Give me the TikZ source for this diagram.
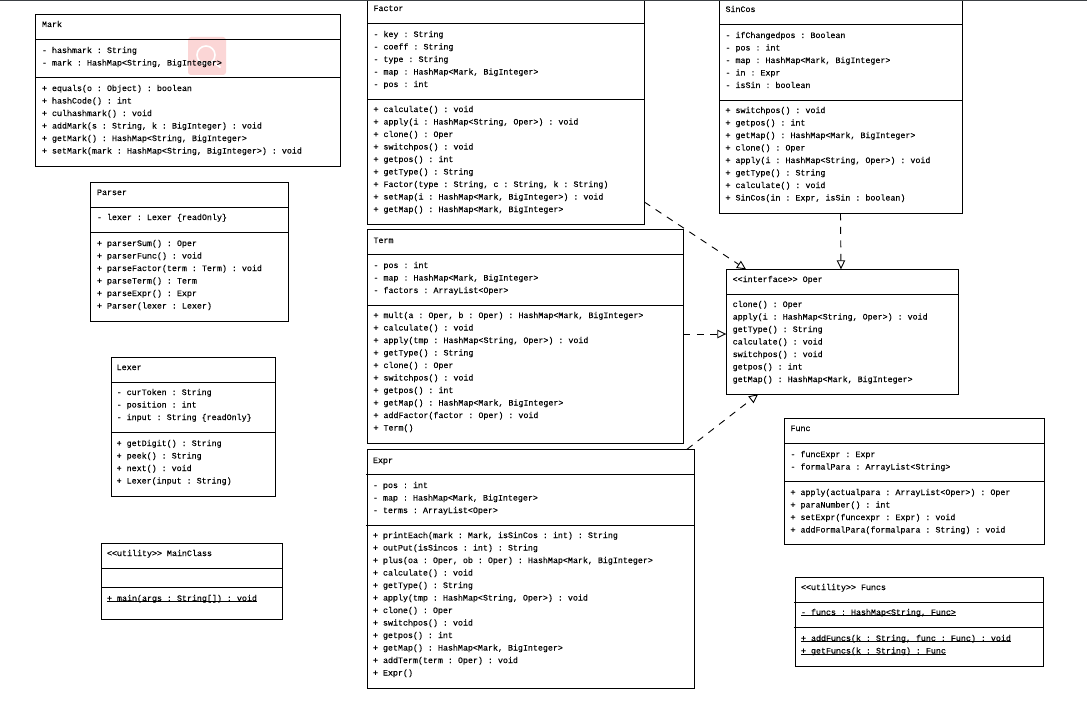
\documentclass[tikz,border=0pt]{standalone}
\usepackage{fontspec}
\setmainfont{Liberation Mono}[FakeBold=0.2]
\usetikzlibrary{arrows.meta}

\tikzset{
  classframe/.style={draw=black, line width=1pt, rectangle, inner sep=0pt, outer sep=0pt, anchor=north west},
  sepline/.style={draw=black, line width=1pt},
  textblock/.style={anchor=north west, inner sep=0pt, outer sep=0pt, align=left, text=black,
    font=\fontsize{8.33}{12.5}\selectfont\frenchspacing},
  realizes/.style={draw=black, line width=0.9pt, dash pattern=on 7pt off 6.5pt,
    -{Triangle[open, length=9pt, width=8.5pt, line width=0.9pt]}}
}

% frame of one class box: name, left, top, right, bottom
\newcommand\classbox[5]{%
  \pgfmathsetmacro\boxw{#4-#2}%
  \pgfmathsetmacro\boxh{#5-#3}%
  \node[classframe, minimum width=\boxw pt, minimum height=\boxh pt] (#1) at (#2,#3) {};}
% compartment rule across a box at height y; optional overhang on the left
\newcommand\classrule[3][0]{\draw[sepline] ([xshift=-#1pt]#2.west |- 0,#3) -- (#2.east |- 0,#3);}
% text block: name, x, centre line of first row, rows
\newcommand\classtext[4]{%
  \pgfmathsetmacro\blocktop{#3-4}%
  \node[textblock] (#1) at (#2,\blocktop) {\rule{0pt}{7pt}#4};}
% static members: rule just below the baseline
\newcommand\statictext[1]{\setbox0=\hbox{#1}\rlap{\rule[-1.2pt]{\wd0}{0.8pt}}\box0 }

\begin{document}
\begin{tikzpicture}[x=1pt,y=-1pt]
\useasboundingbox (0,0) rectangle (1087,717);
\fill[white] (0,0) rectangle (1087,717);

% browser overlay badge
\fill[rounded corners=3pt, fill={rgb,255:red,251;green,214;blue,214}] (188,37) rectangle (226,75);
\draw[white, line width=1.6pt] (206,55) circle (9);
\draw[white, line width=2pt, line cap=round] (213,62) -- (220,67);

% Mark
\classbox{Mark}{35.5}{14.4}{340.4}{166}
\classrule{Mark}{39.4}
\classrule{Mark}{77.3}
\classtext{markT}{42}{24}{Mark}
\classtext{markA}{42}{50}{- hashmark : String\\- mark : HashMap<String, BigInteger>}
\classtext{markO}{42}{88}{+ equals(o : Object) : boolean\\+ hashCode() : int\\+ culhashmark() : void\\+ addMark(s : String, k : BigInteger) : void\\+ getMark() : HashMap<String, BigInteger>\\+ setMark(mark : HashMap<String, BigInteger>) : void}

% Parser
\classbox{Parser}{90.5}{182.3}{288.3}{321}
\classrule{Parser}{207.3}
\classrule{Parser}{232.3}
\classtext{parserT}{97}{192}{Parser}
\classtext{parserA}{97}{217}{- lexer : Lexer \{readOnly\}}
\classtext{parserO}{97}{243}{+ parserSum() : Oper\\+ parserFunc() : void\\+ parseFactor(term : Term) : void\\+ parseTerm() : Term\\+ parseExpr() : Expr\\+ Parser(lexer : Lexer)}

% Lexer
\classbox{Lexer}{111.3}{357.3}{275.3}{496}
\classrule{Lexer}{382.3}
\classrule{Lexer}{432.3}
\classtext{lexerT}{116.7}{367}{Lexer}
\classtext{lexerA}{116.7}{392}{- curToken : String\\- position : int\\- input : String \{readOnly\}}
\classtext{lexerO}{116.7}{443}{+ getDigit() : String\\+ peek() : String\\+ next() : void\\+ Lexer(input : String)}

% MainClass
\classbox{MainClass}{101.3}{543.3}{282.3}{619}
\classrule{MainClass}{568.3}
\classrule{MainClass}{587.3}
\classtext{mainT}{107}{553}{<\kern0pt<utility>\kern0pt> MainClass}
\classtext{mainO}{107}{598}{\statictext{+ main(args : String[]) : void}}

% Factor
\classbox{Factor}{367.3}{0}{644.3}{224.3}
\classrule{Factor}{23.3}
\classrule{Factor}{99.3}
\classtext{factorT}{373.5}{8}{Factor}
\classtext{factorA}{373.5}{34}{- key : String\\- coeff : String\\- type : String\\- map : HashMap<Mark, BigInteger>\\- pos : int}
\classtext{factorO}{373.5}{109}{+ calculate() : void\\+ apply(i : HashMap<String, Oper>) : void\\+ clone() : Oper\\+ switchpos() : void\\+ getpos() : int\\+ getType() : String\\+ Factor(type : String, c : String, k : String)\\+ setMap(i : HashMap<Mark, BigInteger>) : void\\+ getMap() : HashMap<Mark, BigInteger>}

% Term
\classbox{Term}{367.3}{229.3}{683.3}{443.3}
\classrule{Term}{254.3}
\classrule{Term}{305.3}
\classtext{termT}{373.5}{240}{Term}
\classtext{termA}{373.5}{265}{- pos : int\\- map : HashMap<Mark, BigInteger>\\- factors : ArrayList<Oper>}
\classtext{termO}{373.5}{315}{+ mult(a : Oper, b : Oper) : HashMap<Mark, BigInteger>\\+ calculate() : void\\+ apply(tmp : HashMap<String, Oper>) : void\\+ getType() : String\\+ clone() : Oper\\+ switchpos() : void\\+ getpos() : int\\+ getMap() : HashMap<Mark, BigInteger>\\+ addFactor(factor : Oper) : void\\+ Term()}

% Expr
\classbox{Expr}{367.3}{449.3}{694.3}{688.3}
\classrule[1.5]{Expr}{474.3}
\classrule[1.5]{Expr}{525.3}
\classtext{exprT}{373}{460}{Expr}
\classtext{exprA}{373}{485}{- pos : int\\- map : HashMap<Mark, BigInteger>\\- terms : ArrayList<Oper>}
\classtext{exprO}{373}{535}{+ printEach(mark : Mark, isSinCos : int) : String\\+ outPut(isSincos : int) : String\\+ plus(oa : Oper, ob : Oper) : HashMap<Mark, BigInteger>\\+ calculate() : void\\+ getType() : String\\+ apply(tmp : HashMap<String, Oper>) : void\\+ clone() : Oper\\+ switchpos() : void\\+ getpos() : int\\+ getMap() : HashMap<Mark, BigInteger>\\+ addTerm(term : Oper) : void\\+ Expr()}

% SinCos
\classbox{SinCos}{719.3}{0}{962.3}{213.3}
\classrule{SinCos}{24.3}
\classrule{SinCos}{100}
\classtext{sincosT}{725.5}{9}{SinCos}
\classtext{sincosA}{725.5}{35}{- ifChangedpos : Boolean\\- pos : int\\- map : HashMap<Mark, BigInteger>\\- in : Expr\\- isSin : boolean}
\classtext{sincosO}{725.5}{110}{+ switchpos() : void\\+ getpos() : int\\+ getMap() : HashMap<Mark, BigInteger>\\+ clone() : Oper\\+ apply(i : HashMap<String, Oper>) : void\\+ getType() : String\\+ calculate() : void\\+ SinCos(in : Expr, isSin : boolean)}

% Oper
\classbox{Oper}{726.3}{269.3}{958.3}{394.3}
\classrule{Oper}{294.3}
\classtext{operT}{732.7}{279}{<\kern0pt<interface>\kern0pt> Oper}
\classtext{operO}{732.7}{304}{clone() : Oper\\apply(i : HashMap<String, Oper>) : void\\getType() : String\\calculate() : void\\switchpos() : void\\getpos() : int\\getMap() : HashMap<Mark, BigInteger>}

% Func
\classbox{Func}{784.3}{418.3}{1044.3}{544.3}
\classrule{Func}{443.3}
\classrule{Func}{481.3}
\classtext{funcT}{790.5}{428}{Func}
\classtext{funcA}{790.5}{454}{- funcExpr : Expr\\- formalPara : ArrayList<String>}
\classtext{funcO}{790.5}{492}{+ apply(actualpara : ArrayList<Oper>) : Oper\\+ paraNumber() : int\\+ setExpr(funcexpr : Expr) : void\\+ addFormalPara(formalpara : String) : void}

% Funcs
\classbox{Funcs}{795.3}{577.3}{1043.3}{666}
\classrule[1.5]{Funcs}{602.3}
\classrule[1.5]{Funcs}{627.3}
\classtext{funcsT}{801}{587}{<\kern0pt<utility>\kern0pt> Funcs}
\classtext{funcsA}{801}{612}{\statictext{- funcs : HashMap<String, Func>}}
\classtext{funcsO}{801}{638}{\statictext{+ addFuncs(k : String, func : Func) : void}\\\statictext{+ getFuncs(k : String) : Func}}

% realization links to the interface
\draw[realizes] ([yshift=22.3pt]Factor.south east) -- ([xshift=19.7pt]Oper.north west);
\draw[realizes] ([yshift=2.3pt]Term.east) -- ([yshift=-2.2pt]Oper.west);
\draw[realizes] ([xshift=-0.3pt]SinCos.south) -- ([xshift=-1.3pt]Oper.north);
\draw[realizes] ([xshift=-7.3pt]Expr.north east) -- ([xshift=31.7pt]Oper.south west);

% strip along the top edge
\fill[fill={rgb,255:red,60;green,64;blue,68}] (0,0) rectangle (1087,1.2);
\end{tikzpicture}
\end{document}
